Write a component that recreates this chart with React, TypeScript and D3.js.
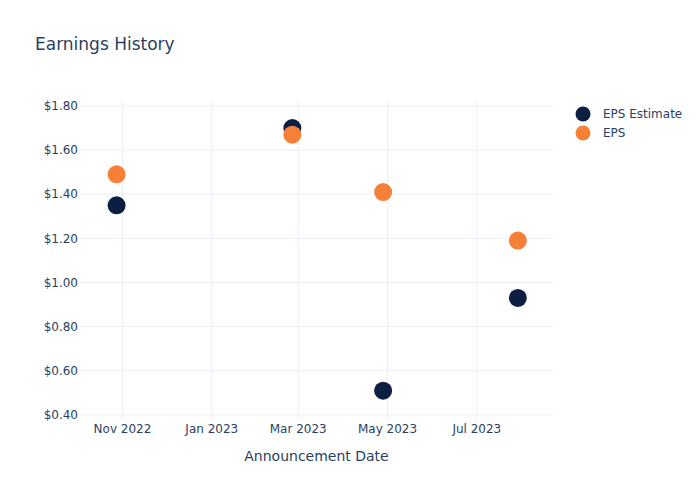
import React from "react";
import * as d3 from "d3";

const dates = ["2022-10-28", "2023-02-25", "2023-04-28", "2023-07-29"];
const epsEstimate = [1.35, 1.70, 0.51, 0.93];
const eps = [1.49, 1.67, 1.41, 1.19];
const yTicks = [0.4, 0.6, 0.8, 1.0, 1.2, 1.4, 1.6, 1.8];
const xTicks = ["2022-11-01", "2023-01-01", "2023-03-01", "2023-05-01", "2023-07-01"];
const seriesNames = ["EPS Estimate", "EPS"];
const seriesColors = ["#0c1f42", "#f68038"];

const parse = d3.utcParse("%Y-%m-%d");

export default function App() {
  const W = 700, H = 500;
  const L = 80, R = 553, T = 100, B = 420;
  const x = d3.scaleUtc()
    .domain([parse("2022-10-03")!, parse("2023-08-22")!])
    .range([L, R]);
  const y = d3.scaleLinear().domain([0.377, 1.827]).range([B, T]);
  const fmtX = d3.utcFormat("%b %Y");
  const text = "#2a3f5f";
  const font = "'DejaVu Sans', sans-serif";
  const series = [epsEstimate, eps];
  return (
    <svg width={W} height={H} style={{ position: "absolute", left: 0, top: 0, background: "#fff" }} fontFamily={font}>
      <rect x={0} y={0} width={W} height={H} fill="#fff" />
      {xTicks.map((t) => (
        <line key={t} x1={x(parse(t)!)} x2={x(parse(t)!)} y1={T} y2={B} stroke="#ebf0f8" strokeWidth={1} />
      ))}
      {yTicks.map((t) => (
        <line key={t} x1={L} x2={R} y1={y(t)} y2={y(t)} stroke="#ebf0f8" strokeWidth={1} />
      ))}
      {yTicks.map((t) => (
        <text key={t} x={L - 2} y={y(t)} dy="0.35em" textAnchor="end" fontSize={12} fill={text}>
          {"$" + t.toFixed(2)}
        </text>
      ))}
      {xTicks.map((t) => (
        <text key={t} x={x(parse(t)!)} y={433} textAnchor="middle" fontSize={12} fill={text}>
          {fmtX(parse(t)!)}
        </text>
      ))}
      {series.map((s, si) =>
        s.map((v, i) => (
          <circle key={si + "-" + i} cx={x(parse(dates[i])!)} cy={y(v)} r={9} fill={seriesColors[si]} />
        ))
      )}
      <text x={35} y={50} fontSize={17} fill={text}>Earnings History</text>
      <text x={(L + R) / 2} y={461} textAnchor="middle" fontSize={14} fill={text}>Announcement Date</text>
      {seriesNames.map((n, i) => (
        <g key={n} transform={`translate(583, ${114 + i * 19})`}>
          <circle cx={0} cy={0} r={7.5} fill={seriesColors[i]} />
          <text x={20} y={0} dy="0.35em" fontSize={12} fill={text}>{n}</text>
        </g>
      ))}
    </svg>
  );
}
